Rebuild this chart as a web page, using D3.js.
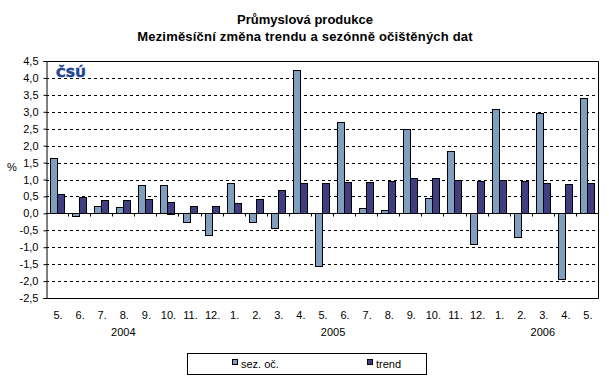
<!DOCTYPE html>
<html>
<head>
<meta charset="utf-8">
<script src="https://cdnjs.cloudflare.com/ajax/libs/d3/7.8.5/d3.min.js"></script>
<style>
  body { margin: 0; background: #fff; }
  text { font-family: Arial, "Liberation Sans", sans-serif; }
</style>
</head>
<body>
<div id="chart"></div>
<script>
// data
const months = ['5.','6.','7.','8.','9.','10.','11.','12.','1.','2.','3.','4.','5.','6.','7.','8.','9.','10.','11.','12.','1.','2.','3.','4.','5.'];
const sezOc = [1.63,-0.09,0.22,0.18,0.83,0.83,-0.27,-0.65,0.89,-0.27,-0.44,4.23,-1.57,2.70,0.15,0.09,2.49,0.44,1.83,-0.92,3.08,-0.71,2.96,-1.95,3.40];
const trend = [0.56,0.48,0.38,0.38,0.41,0.35,0.22,0.22,0.30,0.41,0.68,0.89,0.89,0.92,0.92,0.95,1.04,1.04,0.98,0.95,0.98,0.95,0.89,0.86,0.89];
const years = ['2004','2005','2006'];
const yearAnchor = [3, 12.5, 22]; // month index the year label sits under
const seriesNames = ['sez. oč.','trend'];
const colors = ['#809fbf','#403e80'];

const W = 609, H = 384;
const pLeft = 46, pRight = 598, pTop = 61, pBottom = 298;

const svg = d3.select('#chart').append('svg')
  .attr('width', W).attr('height', H);

svg.append('rect').attr('width', W).attr('height', H).style('fill', '#fff');

// title
svg.append('text').attr('x', 305).attr('y', 24)
  .attr('text-anchor', 'middle').style('font-weight', 'bold').style('font-size', '13px')
  .text('Průmyslová produkce');
svg.append('text').attr('x', 305).attr('y', 41)
  .attr('text-anchor', 'middle').style('font-weight', 'bold').style('font-size', '13px')
  .style('letter-spacing', '0.2px')
  .text('Meziměsíční změna trendu a sezónně očištěných dat');

const x = d3.scaleBand().domain(d3.range(months.length)).range([pLeft, pRight]);
const xs = d3.scaleBand().domain([0, 1]).range([0, x.bandwidth()]).paddingOuter(0.58);
const y = d3.scaleLinear().domain([-2.5, 4.5]).range([pBottom, pTop]);

const loc = d3.formatLocale({decimal: ',', thousands: ' ', grouping: [3], currency: ['', ''], minus: '-'});
const fmt = loc.format('.1f');
const yTicks = d3.range(-5, 10).map(d => d / 2);

// gridlines
svg.append('g').selectAll('line')
  .data(yTicks.filter(d => d !== 0 && d !== -2.5 && d !== 4.5))
  .join('line')
  .attr('x1', pLeft).attr('x2', pRight)
  .attr('y1', d => Math.round(y(d)) + 0.5).attr('y2', d => Math.round(y(d)) + 0.5)
  .style('stroke', '#000').style('stroke-dasharray', '3,3');

// plot border (top, right, bottom)
svg.append('path')
  .attr('d', `M${pLeft},${pTop + 0.5}H${pRight + 0.5}V${Math.round(pBottom) + 0.5}H${pLeft}`)
  .style('fill', 'none').style('stroke', '#000');

// logo
svg.append('text').attr('x', 56).attr('y', 77)
  .style('font-family', 'Verdana, "DejaVu Sans", sans-serif')
  .style('font-weight', 'bold').style('font-size', '13px')
  .style('fill', '#1e4597').style('stroke', '#1e4597').style('stroke-width', '0.6')
  .text('ČSÚ');

// bars
const series = [sezOc, trend];
series.forEach((vals, s) => {
  svg.append('g').selectAll('rect')
    .data(vals)
    .join('rect')
    .attr('x', (d, i) => Math.round(x(i) + xs(s)) + 0.5)
    .attr('y', d => Math.round(y(Math.max(0, d))) + 0.5)
    .attr('width', Math.round(xs.bandwidth()))
    .attr('height', d => Math.max(1, Math.round(Math.abs(y(d) - y(0)))))
    .style('fill', colors[s])
    .style('stroke', '#000').style('stroke-width', 1);
});

// y axis
const yAxis = svg.append('g')
  .attr('transform', `translate(${pLeft + 0.5},0)`)
  .call(d3.axisLeft(y).tickValues(yTicks).tickFormat(fmt).tickSize(3).tickPadding(5));
yAxis.select('.domain').style('stroke', '#000');
yAxis.selectAll('text').style('font-size', '11px').style('font-family', 'Arial, "Liberation Sans", sans-serif');

svg.append('text').attr('x', 12).attr('y', 171)
  .attr('text-anchor', 'middle').style('font-size', '11px').text('%');

// zero line with category ticks
const zy = Math.round(y(0)) + 0.5;
svg.append('line').attr('x1', pLeft).attr('x2', pRight).attr('y1', zy).attr('y2', zy)
  .style('stroke', '#000');
svg.append('g').selectAll('line')
  .data(d3.range(1, months.length))
  .join('line')
  .attr('x1', i => Math.round(x(i)) + 0.5).attr('x2', i => Math.round(x(i)) + 0.5)
  .attr('y1', zy).attr('y2', zy + 3)
  .style('stroke', '#000');

// month labels
svg.append('g').selectAll('text')
  .data(months)
  .join('text')
  .attr('x', (d, i) => x(i) + x.bandwidth() / 2 + 1)
  .attr('y', 319)
  .attr('text-anchor', 'middle').style('font-size', '11px')
  .text(d => d);

// year labels
svg.append('g').selectAll('text')
  .data(years)
  .join('text')
  .attr('x', (d, i) => pLeft + (yearAnchor[i] + 0.5) * x.step())
  .attr('y', 336)
  .attr('text-anchor', 'middle').style('font-size', '11px')
  .text(d => d);

// legend
svg.append('rect').attr('x', 187.5).attr('y', 353.5).attr('width', 239).attr('height', 21)
  .style('fill', '#fff').style('stroke', '#000');
const legX = [232, 367];
seriesNames.forEach((n, s) => {
  svg.append('rect').attr('x', legX[s] + 0.5).attr('y', 359.5).attr('width', 5).attr('height', 5)
    .style('fill', colors[s]).style('stroke', '#000');
  svg.append('text').attr('x', legX[s] + 9).attr('y', 368)
    .style('font-size', '11px').text(n);
});
</script>
</body>
</html>
